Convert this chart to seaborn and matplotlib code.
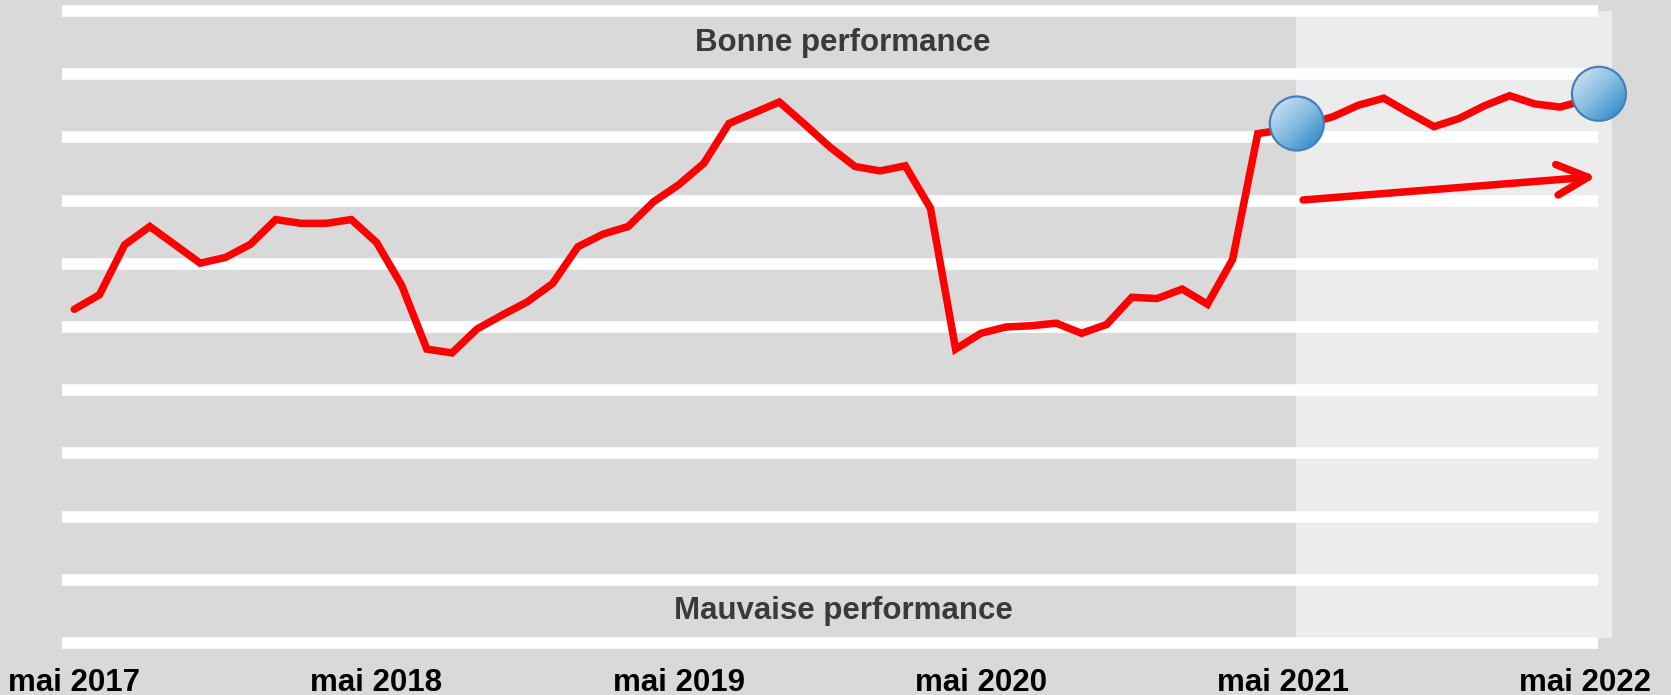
import numpy as np
import pandas as pd
import matplotlib
matplotlib.use("Agg")
from matplotlib import pyplot as plt
from matplotlib.patches import Rectangle, Ellipse
from matplotlib.colors import LinearSegmentedColormap
import seaborn as sns

sns.set_style("white")
plt.rcParams['font.family'] = ['Liberation Sans', 'DejaVu Sans']

# monthly score, mai 2017 -> mai 2022 (0 = bottom band, 10 = top band)
scores = [
    5.28, 5.51, 6.30, 6.59, 6.30, 6.01, 6.10, 6.31, 6.70, 6.64, 6.64, 6.70,
    6.34, 5.66, 4.65, 4.59, 4.97, 5.19, 5.40, 5.69, 6.27, 6.47, 6.59, 6.98,
    7.25, 7.59, 8.22, 8.39, 8.56, 8.21, 7.85, 7.54, 7.47, 7.55, 6.88, 4.65,
    4.90, 5.00, 5.02, 5.06, 4.90, 5.04, 5.47, 5.45, 5.60, 5.36, 6.07, 8.06,
    8.12, 8.21, 8.33, 8.51, 8.62, 8.39, 8.17, 8.30, 8.50, 8.66, 8.53, 8.48,
    8.59,
]
months = pd.date_range("2017-05-01", periods=len(scores), freq="MS")
french_months = {5: "mai"}
tick_idx = [0, 12, 24, 36, 48, 60]
tick_labels = [f"{french_months[months[i].month]} {months[i].year}" for i in tick_idx]

band_levels = list(range(11))
forecast_start = 48.5           # lighter zone starts mid mai 2021
highlight_idx = [48, 60]        # blue bubbles: mai 2021 / mai 2022
trend_start = (48.8, 7.01)
trend_end = (60.45, 7.38)
top_label = "Bonne performance"
bottom_label = "Mauvaise performance"

df = pd.DataFrame({"month": np.arange(len(scores)), "score": scores})

BG = "#d9d9d9"
LIGHT = "#ececec"
TXT = "#3a3a3a"

fig = plt.figure(figsize=(16.71, 6.95), dpi=100, facecolor=BG)
ax = fig.add_axes([0, 35 / 695, 1, 660 / 695])
ax.set_facecolor(BG)

# lighter "recent" zone
ax.add_patch(Rectangle((forecast_start, 0.08), 61.07 - forecast_start, 10 - 0.08,
                       facecolor=LIGHT, edgecolor="none", zorder=0))

# white bands
ax.hlines(band_levels, -0.5, 60.5, colors="white", linewidth=8.4,
          capstyle="butt", zorder=1)

sns.lineplot(data=df, x="month", y="score", color="#ff0000", linewidth=5.4,
             ax=ax, zorder=3, solid_capstyle="round", solid_joinstyle="miter")

# trend arrow
ax.annotate("", xy=trend_end, xytext=trend_start,
            arrowprops=dict(arrowstyle="->, head_length=1.12, head_width=0.55",
                            color="#ff0000", lw=5.4, mutation_scale=20,
                            capstyle="round", shrinkA=0, shrinkB=0),
            zorder=3)

# gradient bubbles
cmap = LinearSegmentedColormap.from_list("bub", ["#dcebf7", "#84bbe0", "#1c7fc0"])
gx, gy = np.meshgrid(np.linspace(0, 1, 200), np.linspace(0, 1, 200))
grad = (gx + gy) / 2
w = 54 / 25.18
h = 54 / 63.2
for i in highlight_idx:
    cx = df["month"][i] + 0.55
    cy = df["score"][i] + 0.1
    ell = Ellipse((cx, cy), w, h, facecolor="none", edgecolor="#4a7ebb",
                  linewidth=1.6, zorder=5)
    im = ax.imshow(grad, cmap=cmap, extent=[cx - w / 2, cx + w / 2, cy - h / 2, cy + h / 2],
                   origin="upper", aspect="auto", zorder=4, interpolation="bilinear")
    ax.add_patch(ell)
    im.set_clip_path(ell)

ax.text(0.5045, 9.5, top_label, transform=ax.get_yaxis_transform(),
        ha="center", va="center", fontsize=22.5, fontweight="bold", color=TXT, zorder=6)
ax.text(0.5045, 0.5, bottom_label, transform=ax.get_yaxis_transform(),
        ha="center", va="center", fontsize=22.5, fontweight="bold", color=TXT, zorder=6)

ax.set_xlim(-2.95, 63.41)
ax.set_ylim((643 - 660) / 63.2, 643 / 63.2)
ax.set_xticks(tick_idx)
ax.set_xticklabels(tick_labels, fontsize=22.5, fontweight="bold", color="black")
ax.set_yticks([])
ax.tick_params(axis="x", length=0, pad=5.5)
ax.set_xlabel("")
ax.set_ylabel("")
for s in ax.spines.values():
    s.set_visible(False)

fig.savefig("out.png", dpi=100, facecolor=BG)
plt.close(fig)
